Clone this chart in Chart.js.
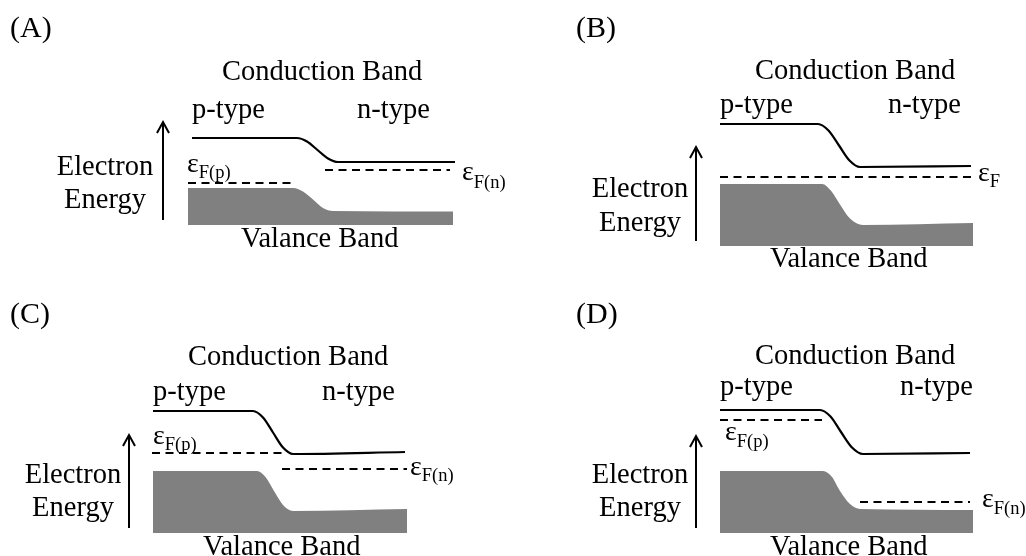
<!DOCTYPE html>
<html>
<head>
<meta charset="utf-8">
<title>p-n junction band diagrams</title>
<script src="https://cdn.jsdelivr.net/npm/chart.js@4.4.1/dist/chart.umd.min.js"></script>
<style>
    html, body { margin: 0; padding: 0; background: #fff; }
    #grid { position: relative; width: 1026px; height: 556px; overflow: hidden; }
    .panel { position: absolute; width: 513px; height: 278px; }
</style>
</head>
<body>
<div id="grid">
    <div class="panel" style="left:0;top:0"><canvas id="chartA"></canvas></div>
    <div class="panel" style="left:513px;top:0"><canvas id="chartB"></canvas></div>
    <div class="panel" style="left:0;top:278px"><canvas id="chartC"></canvas></div>
    <div class="panel" style="left:513px;top:278px"><canvas id="chartD"></canvas></div>
</div>
<script>
// x = position across the junction (a.u., p side on the left), E = electron energy (a.u.)

// (A)
var cbXA = [0.16, 4.36, 4.76, 5.18, 5.6, 6.0, 10.68];
var cbEA = [1.74, 1.74, 1.67, 1.5, 1.33, 1.26, 1.26];
var vbXA = [0, 4.2, 4.6, 5.0, 5.4, 5.8, 10.6];
var vbEA = [0.74, 0.74, 0.67, 0.51, 0.34, 0.28, 0.27];
var efFromA = [0, 5.48];
var efToA = [4.28, 10.48];
var efLevelA = [0.84, 1.10];
var efSubA = ['F(p)', 'F(n)'];

// (B)
var cbXB = [0, 3.92, 4.34, 4.76, 5.18, 5.6, 10.04];
var cbEB = [2.44, 2.44, 2.31, 2.01, 1.71, 1.58, 1.6];
var vbXB = [0, 4.08, 4.45, 4.8, 5.2, 5.72, 10.12];
var vbEB = [1.24, 1.24, 1.1, 0.83, 0.55, 0.42, 0.46];
var efFromB = [0];
var efToB = [10.04];
var efLevelB = [1.38];
var efSubB = ['F'];

// (C)
var cbXC = [0, 4.0, 4.4, 4.8, 5.2, 5.6, 10.08];
var cbEC = [2.44, 2.44, 2.31, 2.01, 1.71, 1.58, 1.62];
var vbXC = [0, 4.16, 4.5, 4.84, 5.2, 5.6, 10.16];
var vbEC = [1.24, 1.24, 1.12, 0.84, 0.56, 0.44, 0.48];
var efFromC = [-0.04, 5.16];
var efToC = [5.16, 10.16];
var efLevelC = [1.6, 1.28];
var efSubC = ['F(p)', 'F(n)'];

// (D)
var cbXD = [0, 4.0, 4.42, 4.84, 5.28, 5.72, 10.0];
var cbED = [2.46, 2.46, 2.33, 2.02, 1.71, 1.58, 1.6];
var vbXD = [0, 4.12, 4.48, 4.8, 5.2, 5.6, 10.12];
var vbED = [1.24, 1.24, 1.12, 0.84, 0.58, 0.48, 0.46];
var efFromD = [0, 5.6];
var efToD = [4.08, 10.0];
var efLevelD = [2.26, 0.62];
var efSubD = ['F(p)', 'F(n)'];

var panelLetters = ['(A)', '(B)', '(C)', '(D)'];

var SERIF = '"Liberation Serif", "Times New Roman", serif';
var W = 513, H = 278;

// Panel layout: where x=0 / E=0 land on each canvas, plus label anchors (canvas px)
var layouts = [
    {
        x0: 188, y0: 225,
        letter: [10, 37],
        cb: [222, 80], vb: [241, 247], p: [192, 118], n: [357, 118],
        elec: [105, 175, 208],
        eps: [[187, 172, 6], [462, 180, 8]],
        arrow: [163, 220, 122]
    },
    {
        x0: 207, y0: 246,
        letter: [63, 37],
        cb: [242, 79], vb: [257, 267], p: [207, 113], n: [375, 113],
        elec: [127, 197, 231],
        eps: [[465, 181, 6]],
        arrow: [183, 241, 147]
    },
    {
        x0: 153, y0: 255,
        letter: [10, 45],
        cb: [188, 87], vb: [203, 277], p: [153, 122], n: [322, 122],
        elec: [73, 205, 238],
        eps: [[153, 166, 6], [410, 197, 6]],
        arrow: [129, 250, 157]
    },
    {
        x0: 207, y0: 255,
        letter: [63, 45],
        cb: [242, 86], vb: [257, 277], p: [207, 117], n: [387, 117],
        elec: [127, 205, 238],
        eps: [[212, 162, 7], [469, 229, 7]],
        arrow: [183, 250, 158]
    }
];

function toPoints(xs, ys) {
    return xs.map(function (x, i) { return { x: x, y: ys[i] }; });
}

var decorPlugin = {
    id: 'decor',
    afterDatasetsDraw: function (chart, args, opts) {
        var L = opts.layout;
        var ctx = chart.ctx;
        ctx.save();
        ctx.fillStyle = '#000';
        ctx.textBaseline = 'alphabetic';
        ctx.textAlign = 'left';

        ctx.font = '30px ' + SERIF;
        ctx.fillText(opts.letter, L.letter[0], L.letter[1]);

        ctx.font = '28.5px ' + SERIF;
        ctx.fillText('Conduction Band', L.cb[0], L.cb[1]);
        ctx.fillText('Valance Band', L.vb[0], L.vb[1]);
        ctx.fillText('p-type', L.p[0], L.p[1]);
        ctx.fillText('n-type', L.n[0], L.n[1]);
        ctx.textAlign = 'center';
        ctx.fillText('Electron', L.elec[0], L.elec[1]);
        ctx.fillText('Energy', L.elec[0], L.elec[2]);
        ctx.textAlign = 'left';

        // Fermi level labels
        L.eps.forEach(function (e, i) {
            ctx.font = '28px ' + SERIF;
            ctx.fillText('\u03b5', e[0], e[1]);
            var w = ctx.measureText('\u03b5').width;
            ctx.font = '18.5px ' + SERIF;
            ctx.fillText(opts.subs[i], e[0] + w, e[1] + e[2]);
        });

        // energy arrow
        var a = L.arrow;
        ctx.strokeStyle = '#000';
        ctx.lineWidth = 2;
        ctx.beginPath();
        ctx.moveTo(a[0], a[1]);
        ctx.lineTo(a[0], a[2] + 1);
        ctx.stroke();
        ctx.beginPath();
        ctx.moveTo(a[0] - 6, a[2] + 11);
        ctx.lineTo(a[0], a[2]);
        ctx.lineTo(a[0] + 6, a[2] + 11);
        ctx.stroke();
        ctx.restore();
    }
};

function makePanel(id, idx, cbX, cbE, vbX, vbE, efFrom, efTo, efLevel, efSub) {
    var L = layouts[idx];
    var kx = 25, ky = 50;

    var datasets = [
        {
            label: 'Valence band',
            data: toPoints(vbX, vbE),
            borderWidth: 0,
            borderColor: 'rgba(0,0,0,0)',
            backgroundColor: '#808080',
            fill: 'origin',
            cubicInterpolationMode: 'monotone',
            pointRadius: 0
        },
        {
            label: 'Conduction band',
            data: toPoints(cbX, cbE),
            borderWidth: 2.2,
            borderColor: '#000',
            fill: false,
            cubicInterpolationMode: 'monotone',
            pointRadius: 0
        }
    ];

    efLevel.forEach(function (e, i) {
        datasets.push({
            label: 'Fermi level ' + efSub[i],
            data: [{ x: efFrom[i], y: e }, { x: efTo[i], y: e }],
            borderWidth: 2,
            borderColor: '#000',
            borderDash: [8, 5.5],
            fill: false,
            pointRadius: 0
        });
    });

    return new Chart(document.getElementById(id).getContext('2d'), {
        type: 'line',
        data: { datasets: datasets },
        options: {
            responsive: true,
            maintainAspectRatio: false,
            animation: false,
            events: [],
            layout: { padding: 0, autoPadding: false },
            scales: {
                x: { type: 'linear', display: false, min: -L.x0 / kx, max: (W - L.x0) / kx },
                y: { type: 'linear', display: false, min: -(H - L.y0) / ky, max: L.y0 / ky }
            },
            plugins: {
                legend: { display: false },
                tooltip: { enabled: false },
                decor: { layout: L, letter: panelLetters[idx], subs: efSub }
            }
        },
        plugins: [decorPlugin]
    });
}

makePanel('chartA', 0, cbXA, cbEA, vbXA, vbEA, efFromA, efToA, efLevelA, efSubA);
makePanel('chartB', 1, cbXB, cbEB, vbXB, vbEB, efFromB, efToB, efLevelB, efSubB);
makePanel('chartC', 2, cbXC, cbEC, vbXC, vbEC, efFromC, efToC, efLevelC, efSubC);
makePanel('chartD', 3, cbXD, cbED, vbXD, vbED, efFromD, efToD, efLevelD, efSubD);
</script>
</body>
</html>
